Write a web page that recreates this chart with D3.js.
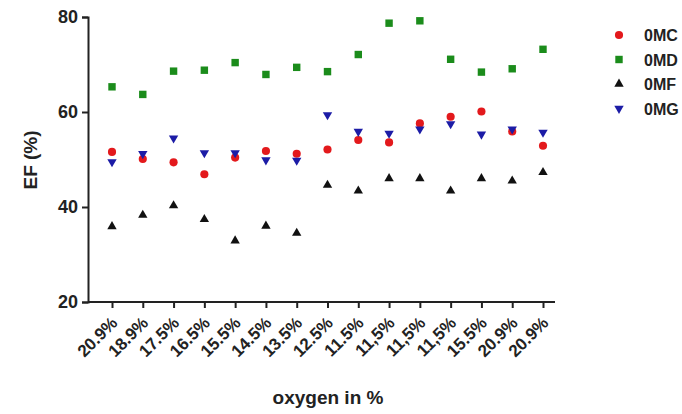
<!DOCTYPE html>
<html>
<head>
<meta charset="utf-8">
<script src="https://cdn.jsdelivr.net/npm/d3@7"></script>
<style>
  body { margin: 0; background: #fff; }
  svg { display: block; font-family: Arial, "Liberation Sans", sans-serif; }
</style>
</head>
<body>
<div id="chart"></div>
<script>
// categories along the x axis
const oxygen = ["20.9%", "18.9%", "17.5%", "16.5%", "15.5%", "14.5%", "13.5%", "12.5%",
  "11.5%", "11,5%", "11,5%", "11,5%", "15.5%", "20.9%", "20.9%"];

// series values (EF %)
const omc = [51.6, 50.1, 49.4, 46.9, 50.4, 51.8, 51.2, 52.1, 54.1, 53.6, 57.6, 59.0, 60.1, 55.9, 52.9];
const omd = [65.3, 63.7, 68.6, 68.8, 70.4, 67.9, 69.4, 68.5, 72.1, 78.7, 79.2, 71.1, 68.4, 69.1, 73.2];
const omf = [35.9, 38.3, 40.3, 37.4, 32.9, 36.0, 34.5, 44.6, 43.4, 46.0, 46.0, 43.4, 46.0, 45.5, 47.3];
const omg = [49.5, 51.2, 54.5, 51.4, 51.4, 49.9, 49.8, 59.4, 55.9, 55.5, 56.4, 57.5, 55.3, 56.4, 55.7];

const yTicks = [20, 40, 60, 80];

const series = [
  { name: "0MC", values: omc, color: "#e3191c", symbol: d3.symbolCircle, size: 52, rot: 0 },
  { name: "0MD", values: omd, color: "#1b8c1b", symbol: d3.symbolSquare, size: 55, rot: 0 },
  { name: "0MF", values: omf, color: "#111111", symbol: d3.symbolTriangle, size: 38, rot: 0 },
  { name: "0MG", values: omg, color: "#1c1ca6", symbol: d3.symbolTriangle, size: 38, rot: 180 }
];

const width = 682, height = 414;
const svg = d3.select("#chart").append("svg")
  .attr("width", width)
  .attr("height", height);

const x = d3.scalePoint()
  .domain(d3.range(oxygen.length))
  .range([112, 543]);

const y = d3.scaleLinear()
  .domain([20, 80])
  .range([302, 17]);

// y axis
const yAxis = svg.append("g")
  .attr("transform", "translate(88,0)")
  .call(d3.axisLeft(y).tickValues(yTicks).tickSize(6).tickPadding(4));
yAxis.select(".domain").attr("stroke", "#222").attr("stroke-width", 2);
yAxis.selectAll(".tick line").attr("stroke", "#222").attr("stroke-width", 2);
yAxis.selectAll(".tick text")
  .attr("fill", "#222")
  .style("font-size", "18px")
  .style("font-weight", "bold");

// x axis
const xAxis = svg.append("g")
  .attr("transform", "translate(0,302)")
  .call(d3.axisBottom(x).tickSize(6).tickFormat(i => oxygen[i]));
xAxis.select(".domain")
  .attr("d", "M88,0H555")
  .attr("stroke", "#222").attr("stroke-width", 2);
xAxis.selectAll(".tick line").attr("stroke", "#222").attr("stroke-width", 2);
xAxis.selectAll(".tick text")
  .attr("fill", "#222")
  .style("font-size", "17px")
  .style("font-weight", "bold")
  .attr("text-anchor", "end")
  .attr("dy", null)
  .attr("transform", "translate(6,22) rotate(-45)")
  .attr("x", 0)
  .attr("y", 0);

// axis titles
svg.append("text")
  .text("EF (%)")
  .attr("transform", "translate(37,160) rotate(-90)")
  .attr("text-anchor", "middle")
  .attr("fill", "#222")
  .style("font-size", "19px")
  .style("font-weight", "bold");

svg.append("text")
  .text("oxygen in %")
  .attr("x", 328)
  .attr("y", 404)
  .attr("text-anchor", "middle")
  .attr("fill", "#222")
  .style("font-size", "19px")
  .style("font-weight", "bold");

// points
series.forEach(s => {
  svg.append("g")
    .selectAll("path")
    .data(s.values)
    .join("path")
    .attr("d", d3.symbol().type(s.symbol).size(s.size))
    .attr("transform", (d, i) => `translate(${x(i)},${y(d)}) rotate(${s.rot})`)
    .attr("fill", s.color);
});

// legend
const legend = svg.append("g")
  .selectAll("g")
  .data(series)
  .join("g")
  .attr("transform", (d, i) => `translate(619,${35 + i * 24.5})`);
legend.append("path")
  .attr("d", d => d3.symbol().type(d.symbol).size(d.size)())
  .attr("transform", d => `rotate(${d.rot})`)
  .attr("fill", d => d.color);
legend.append("text")
  .text(d => d.name)
  .attr("x", 25)
  .attr("y", 6)
  .attr("fill", "#222")
  .style("font-size", "16px")
  .style("font-weight", "bold");
</script>
</body>
</html>
